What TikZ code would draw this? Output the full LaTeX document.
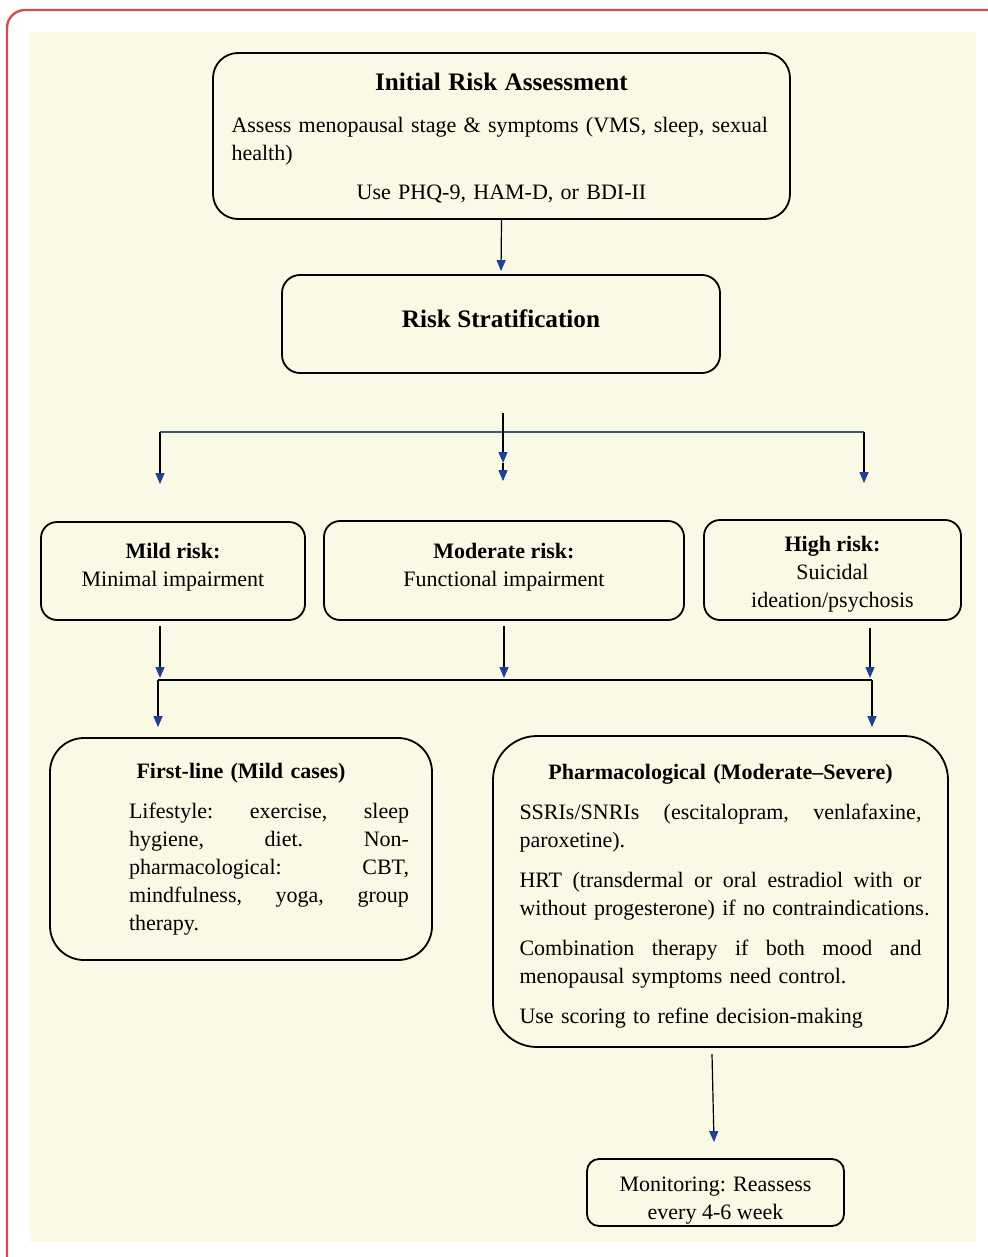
\documentclass[tikz,border=0pt]{standalone}
\usepackage{fontspec}
\setmainfont{Liberation Serif}
\usetikzlibrary{arrows.meta}

\definecolor{creambg}{RGB}{250,249,229}
\definecolor{framered}{RGB}{205,80,85}
\definecolor{tipblue}{RGB}{32,64,145}
\definecolor{barslate}{RGB}{60,88,115}
\newcommand{\titlefont}{\fontsize{12.6}{15}\selectfont\bfseries}
\newcommand{\bodyfont}{\fontsize{11}{14}\selectfont}

\tikzset{
  riskbox/.style={draw=black, line width=0.9pt, align=center, font=\bodyfont, inner sep=0pt},
  flowarrow/.style={draw=black, line width=0.6pt, -{Triangle[color=tipblue, width=4.5pt, length=5.5pt]}},
}

\begin{document}
\begin{tikzpicture}[x=0.5pt, y=-0.5pt]
% Frame
\useasboundingbox (0,0) rectangle (987,1257);
\fill[white] (0,0) rectangle (987,1257);
\fill[creambg] (30,32) rectangle (976,1242);
\draw[framered, line width=1.2pt, rounded corners=9pt] (7,1262) -- (7,10) -- (995,10);
% Boxes
\node[riskbox, rounded corners=12.5pt, minimum width=288.5pt, minimum height=83pt, text width=270pt, align=left] (init) at (501.5,136)
  {\centering\titlefont\rule{0pt}{11pt}Initial Risk Assessment\par
   \vspace{7pt}\raggedright\bodyfont\mdseries Assess menopausal stage \& symptoms (VMS, sleep, sexual health)\par
   \vspace{5.5pt}\centering Use PHQ-9, HAM-D, or BDI-II\par};
\node[riskbox, rounded corners=9pt, minimum width=219pt, minimum height=49pt, font=\titlefont, text depth=5pt] (strat) at (501,324) {Risk Stratification};
\node[riskbox, rounded corners=8pt, minimum width=132pt, minimum height=49pt, text depth=6.5pt] (mild) at (173,571) {\textbf{Mild risk:}\\Minimal impairment};
\node[riskbox, rounded corners=8pt, minimum width=180pt, minimum height=49.5pt, text depth=5.5pt] (moderate) at (504,570.5) {\textbf{Moderate risk:}\\Functional impairment};
\node[riskbox, rounded corners=8pt, minimum width=128.5pt, minimum height=50pt, text height=40pt] (high) at (832.5,570) {\textbf{High risk:}\\Suicidal\\ideation/psychosis};
\node[riskbox, rounded corners=17pt, minimum width=191pt, minimum height=111pt, text width=168pt, align=left] (firstline) at (241,849)
  {\centering\bfseries First-line (Mild cases)\par
   \vspace{6pt}\mdseries\raggedright\leftskip=28pt
   Lifestyle:\hfill exercise,\hfill sleep\par
   hygiene,\hfill diet.\hfill Non-\par
   pharmacological:\hfill CBT,\par
   mindfulness,\hfill yoga,\hfill group\par
   therapy.\par};
\node[riskbox, rounded corners=22pt, minimum width=227.5pt, minimum height=155.5pt, text width=201pt, align=left] (pharma) at (720.5,891.5)
  {\centering\bfseries\rule{0pt}{12.5pt}Pharmacological (Moderate--Severe)\par
   \vspace{6pt}\mdseries\raggedright
   SSRIs/SNRIs\hfill (escitalopram,\hfill venlafaxine,\par
   paroxetine).\par
   \vspace{6pt}HRT\hfill (transdermal\hfill or\hfill oral\hfill estradiol\hfill with\hfill or\par
   \makebox[\linewidth][s]{without progesterone) if no contraindications.}\par
   \vspace{6pt}Combination\hfill therapy\hfill if\hfill both\hfill mood\hfill and\par
   menopausal symptoms need control.\par
   \vspace{6pt}Use scoring to refine decision-making\par};
\node[riskbox, rounded corners=6pt, minimum width=128.5pt, minimum height=33.5pt, text height=29pt] (monitor) at (715.5,1192.5) {Monitoring: Reassess\\every 4-6 week};
% Split points
\coordinate (stratdrop) at (503,413);
\coordinate (modtip) at (503,463);
\coordinate (splitleft) at (160,432);
\coordinate (splitright) at (864,432);
\coordinate (mergeleft) at (158,680);
\coordinate (mergeright) at (872,680);
% Connectors
\draw[flowarrow, shorten >=1.5pt] (init.south) -- (strat.north);
\draw[barslate, line width=1.1pt] (splitleft) -- (splitright);
\draw[flowarrow] (stratdrop) -- (modtip);
\draw[flowarrow, shorten >=19.5pt] (modtip) -- (modtip |- moderate.north);
\draw[flowarrow, shorten >=18.5pt] (splitleft) -- (splitleft |- mild.north);
\draw[flowarrow, shorten >=18pt] (splitright) -- (splitright |- high.north);
\draw[black, line width=0.8pt] (mergeleft) -- (mergeright);
\draw[flowarrow, shorten >=1pt] ([xshift=-6.5pt,yshift=-2.5pt]mild.south) -- ([xshift=1pt]mergeleft);
\draw[flowarrow, shorten >=1pt] ([yshift=-2.5pt]moderate.south) -- (moderate.south |- mergeleft);
\draw[flowarrow, shorten >=1pt] ([xshift=18.75pt,yshift=-3.5pt]high.south) -- ([xshift=-1pt]mergeright);
\draw[flowarrow, shorten >=5pt] (mergeleft) -- (mergeleft |- firstline.north);
\draw[flowarrow, shorten >=4pt] (mergeright) -- (mergeright |- pharma.north);
\draw[flowarrow] ([xshift=-4.25pt,yshift=-3pt]pharma.south) -- ([xshift=-0.75pt,yshift=8pt]monitor.north);
\end{tikzpicture}
\end{document}
